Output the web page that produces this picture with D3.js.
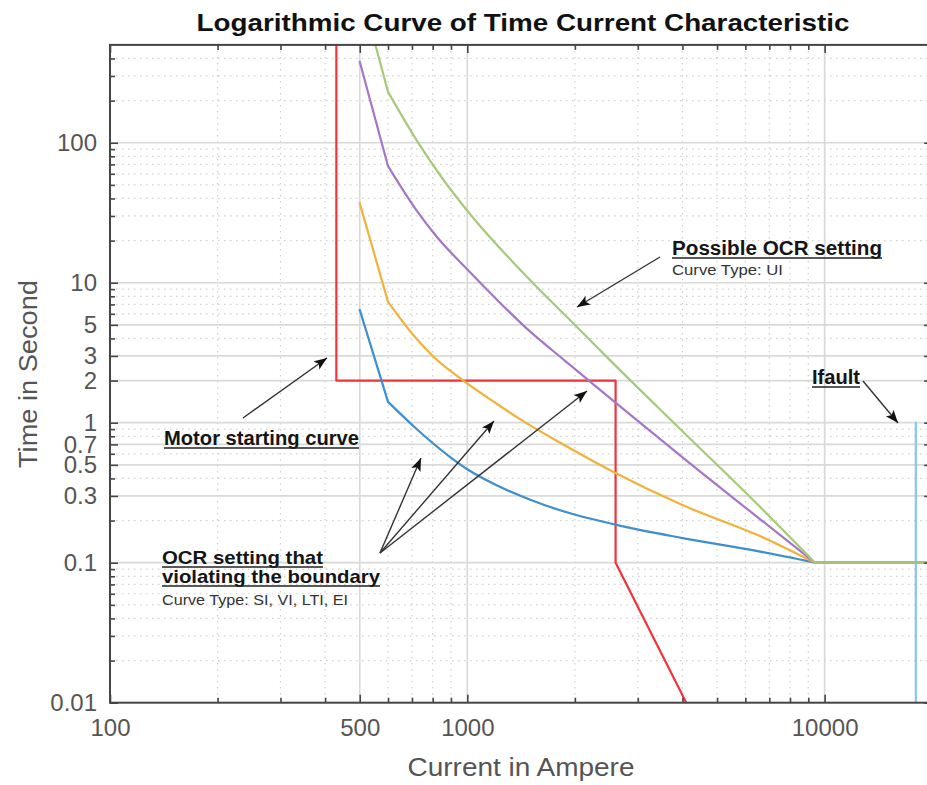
<!DOCTYPE html>
<html>
<head>
<meta charset="utf-8">
<script src="https://cdn.jsdelivr.net/npm/d3@7"></script>
<style>
  body { margin: 0; background: #fff; }
  svg text { font-family: "Liberation Sans", Arial, Helvetica, sans-serif; }
</style>
</head>
<body>
<svg id="chart" width="927" height="785"></svg>
<script>
// ---- Data: current in ampere, operating time in seconds ----
const motorCurrent = [430, 430, 2600, 2600, 4100];
const motorTime    = [900, 2, 2, 0.1, 0.01];

const siCurrent = [500, 600, 720, 890, 1000, 1200, 1500, 1800, 2600, 4000, 6600, 9400, 20000];
const siTime    = [6.4, 1.41, 0.906, 0.575, 0.465, 0.36, 0.282, 0.239, 0.187, 0.15, 0.12, 0.1, 0.1];

const viCurrent = [500, 600, 706, 800, 975, 1200, 1400, 1815, 2590, 4000, 6590, 9400, 20000];
const viTime    = [37, 7.3, 4.23, 3.0, 2.0, 1.383, 1.066, 0.722, 0.439, 0.258, 0.155, 0.1, 0.1];

const eiCurrent = [500, 600, 720, 820, 1018, 1500, 1877, 2275, 3000, 4290, 6590, 9400, 20000];
const eiTime    = [379, 68, 33, 21.4, 11.9, 4.47, 2.77, 1.84, 1.03, 0.49, 0.205, 0.1, 0.1];

const uiCurrent = [500, 600, 721, 850, 996, 1500, 2023, 2506, 4000, 6590, 9400, 20000];
const uiTime    = [1300, 231, 104.5, 56, 33.1, 10.4, 4.85, 2.8, 0.87, 0.251, 0.1, 0.1];

const faultCurrent = [18000, 18000];
const faultTime    = [0.01, 1];

const currentTickLabels = [100, 500, 1000, 10000];
const timeTickLabels    = [0.01, 0.1, 0.3, 0.5, 0.7, 1, 2, 3, 5, 10, 100];

// ---- Layout ----
const svg = d3.select("#chart");
const pLeft = 110, pRight = 932.2, pTop = 44.9, pBottom = 702.7;

const x = d3.scaleLog().domain([100, 20000]).range([pLeft, pRight]);
const y = d3.scaleLog().domain([0.01, 500]).range([pBottom, pTop]);

// minor log positions (2..9 within each decade) for the dotted grid
function minorsIn(lo, hi, majors) {
  const out = [];
  for (let d = lo; d < hi; d *= 10) {
    for (let k = 1; k <= 9; k++) {
      const v = +(d * k).toPrecision(6);
      if (v > lo && v <= hi && !majors.some(m => Math.abs(m - v) / v < 1e-6)) out.push(v);
    }
  }
  return out;
}
const xMinor = minorsIn(100, 20000, currentTickLabels);
const yMinor = minorsIn(0.01, 400, timeTickLabels);

// ---- Grid ----
const grid = svg.append("g");
grid.selectAll("line.xminor").data(xMinor).join("line")
  .attr("x1", d => x(d)).attr("x2", d => x(d)).attr("y1", pTop).attr("y2", pBottom)
  .attr("stroke", "#cfcfcf").attr("stroke-width", 1.2).attr("stroke-dasharray", "1.5,4.5");
grid.selectAll("line.yminor").data(yMinor).join("line")
  .attr("x1", pLeft).attr("x2", pRight).attr("y1", d => y(d)).attr("y2", d => y(d))
  .attr("stroke", "#cfcfcf").attr("stroke-width", 1.2).attr("stroke-dasharray", "1.5,4.5");
grid.selectAll("line.xmajor").data(currentTickLabels.filter(d => d > 100)).join("line")
  .attr("x1", d => x(d)).attr("x2", d => x(d)).attr("y1", pTop).attr("y2", pBottom)
  .attr("stroke", "#d9d9d9").attr("stroke-width", 1.7);
grid.selectAll("line.ymajor").data(timeTickLabels.filter(d => d > 0.01)).join("line")
  .attr("x1", pLeft).attr("x2", pRight).attr("y1", d => y(d)).attr("y2", d => y(d))
  .attr("stroke", "#d9d9d9").attr("stroke-width", 1.7);

// ---- Curves ----
svg.append("clipPath").attr("id", "plotClip")
  .append("rect").attr("x", pLeft).attr("y", pTop).attr("width", pRight - pLeft).attr("height", pBottom - pTop);

const straight = d3.line().x(d => x(d[0])).y(d => y(d[1]));
const smooth = d3.line().x(d => x(d[0])).y(d => y(d[1])).curve(d3.curveMonotoneX);
const zip = (a, b) => a.map((v, i) => [v, b[i]]);

const curves = svg.append("g").attr("clip-path", "url(#plotClip)");

function drawPath(pts, gen, color) {
  curves.append("path").datum(pts).attr("d", gen)
    .attr("fill", "none").attr("stroke", color).attr("stroke-width", 2.2)
    .attr("stroke-linejoin", "round").attr("stroke-linecap", "round");
}
// relay curves: straight pickup segment, smooth inverse-time body, flat instantaneous tail
function drawRelay(cur, tim, color) {
  const pts = zip(cur, tim);
  const n = pts.length;
  drawPath(pts.slice(0, 2), straight, color);
  drawPath(pts.slice(1, n - 1), smooth, color);
  drawPath(pts.slice(n - 2), straight, color);
}

drawPath(zip(motorCurrent, motorTime), straight, "#f2333d");
drawPath(zip(faultCurrent, faultTime), straight, "#86c8ee");
drawRelay(siCurrent, siTime, "#3f8fcf");
drawRelay(viCurrent, viTime, "#efb23a");
drawRelay(eiCurrent, eiTime, "#a676c6");
drawRelay(uiCurrent, uiTime, "#a8c87c");

// ---- Axes (ticks point inward on all four sides) ----
const axisColor = "#454545";
function styleAxis(g) {
  g.select(".domain").remove();
  g.selectAll(".tick line").attr("stroke", axisColor).attr("stroke-width", 1.6);
  g.selectAll(".tick text").attr("fill", "#555").attr("font-size", 24)
    .attr("font-family", "'Liberation Sans', Arial, sans-serif");
}
const fmt = d => String(d);

svg.append("g").attr("transform", `translate(${pLeft},0)`)
  .call(d3.axisLeft(y).tickValues(timeTickLabels).tickFormat(fmt).tickSize(-8).tickPadding(13))
  .call(styleAxis);
svg.append("g").attr("transform", `translate(${pLeft},0)`)
  .call(d3.axisLeft(y).tickValues(yMinor).tickFormat("").tickSize(-5)).call(styleAxis);
svg.append("g").attr("transform", `translate(${pRight},0)`)
  .call(d3.axisRight(y).tickValues(timeTickLabels).tickFormat("").tickSize(-8)).call(styleAxis);
svg.append("g").attr("transform", `translate(${pRight},0)`)
  .call(d3.axisRight(y).tickValues(yMinor).tickFormat("").tickSize(-5)).call(styleAxis);

svg.append("g").attr("transform", `translate(0,${pBottom})`)
  .call(d3.axisBottom(x).tickValues(currentTickLabels).tickFormat(fmt).tickSize(-8).tickPadding(16))
  .call(styleAxis);
svg.append("g").attr("transform", `translate(0,${pBottom})`)
  .call(d3.axisBottom(x).tickValues(xMinor).tickFormat("").tickSize(-5)).call(styleAxis);
svg.append("g").attr("transform", `translate(0,${pTop})`)
  .call(d3.axisTop(x).tickValues(currentTickLabels).tickFormat("").tickSize(-8)).call(styleAxis);
svg.append("g").attr("transform", `translate(0,${pTop})`)
  .call(d3.axisTop(x).tickValues(xMinor).tickFormat("").tickSize(-5)).call(styleAxis);

// plot frame
svg.append("rect").attr("x", pLeft).attr("y", pTop).attr("width", pRight - pLeft).attr("height", pBottom - pTop)
  .attr("fill", "none").attr("stroke", axisColor).attr("stroke-width", 2);

// ---- Titles ----
svg.append("text").attr("x", 523).attr("y", 31).attr("text-anchor", "middle")
  .attr("font-size", 23).attr("font-weight", "bold").attr("fill", "#111")
  .attr("textLength", 653).attr("lengthAdjust", "spacingAndGlyphs")
  .text("Logarithmic Curve of Time Current Characteristic");
svg.append("text").attr("x", 521).attr("y", 776).attr("text-anchor", "middle")
  .attr("font-size", 25).attr("fill", "#555")
  .attr("textLength", 227).attr("lengthAdjust", "spacingAndGlyphs")
  .text("Current in Ampere");
svg.append("text").attr("transform", "translate(37,374) rotate(-90)").attr("text-anchor", "middle")
  .attr("font-size", 25).attr("fill", "#555")
  .attr("textLength", 188).attr("lengthAdjust", "spacingAndGlyphs")
  .text("Time in Second");

// ---- Annotations ----
const defs = svg.append("defs");
defs.append("marker").attr("id", "arrowHead").attr("markerUnits", "userSpaceOnUse")
  .attr("markerWidth", 16).attr("markerHeight", 12).attr("refX", 13).attr("refY", 5)
  .attr("orient", "auto")
  .append("path").attr("d", "M0,0 L13,5 L0,10 L3,5 Z").attr("fill", "#111");

const ann = svg.append("g");
function arrow(x1, y1, x2, y2) {
  ann.append("line").attr("x1", x1).attr("y1", y1).attr("x2", x2).attr("y2", y2)
    .attr("stroke", "#333").attr("stroke-width", 1.4).attr("marker-end", "url(#arrowHead)");
}
function boldLabel(tx, ty, str, len, size) {
  ann.append("text").attr("x", tx).attr("y", ty).attr("font-size", size || 20).attr("font-weight", "bold")
    .attr("fill", "#151515").attr("textLength", len).attr("lengthAdjust", "spacingAndGlyphs").text(str);
  ann.append("line").attr("x1", tx).attr("x2", tx + len).attr("y1", ty + 3).attr("y2", ty + 3)
    .attr("stroke", "#222").attr("stroke-width", 1.3);
}
function smallLabel(tx, ty, str, len) {
  ann.append("text").attr("x", tx).attr("y", ty).attr("font-size", 15)
    .attr("fill", "#333").attr("textLength", len).attr("lengthAdjust", "spacingAndGlyphs").text(str);
}

boldLabel(672, 255, "Possible OCR setting", 210);
smallLabel(672, 275, "Curve Type: UI", 111);
arrow(660, 257, 577, 307);

boldLabel(812, 384, "Ifault", 48);
arrow(863, 381, 898, 423);

boldLabel(164, 445, "Motor starting curve", 195);
arrow(243, 418, 327, 358);

boldLabel(162, 564, "OCR setting that", 161, 19);
boldLabel(162, 583, "violating the boundary", 218, 19);
smallLabel(162, 605, "Curve Type: SI, VI, LTI, EI", 186);
arrow(380, 553, 421, 458);
arrow(380, 553, 494, 421);
arrow(380, 553, 587, 391);
</script>
</body>
</html>
